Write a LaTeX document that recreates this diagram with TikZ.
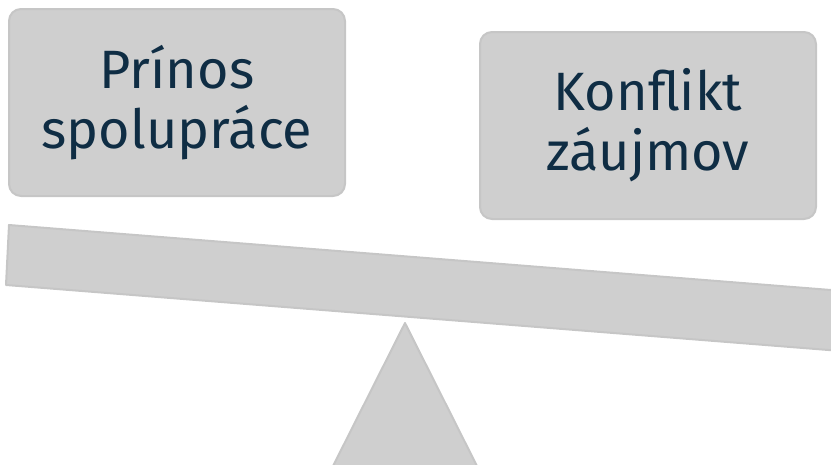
\documentclass[tikz,border=0pt]{standalone}
\usepackage{fontspec}
\setmainfont{Fira Sans}
\usepackage{tikz}
\usepackage{xcolor}
\usetikzlibrary{positioning,calc}

\definecolor{boxgray}{HTML}{CFCFCF}
\definecolor{edgegray}{HTML}{C6C6C6}
\definecolor{navytext}{HTML}{0F2D44}

\begin{document}
\begin{tikzpicture}[x=1pt, y=-1pt, thick,
    argbox/.style={draw=edgegray, fill=boxgray, line width=2pt, rounded corners=12pt,
        minimum width=336pt, minimum height=187pt, align=center, text=navytext,
        font=\fontsize{54}{60}\selectfont}]
    \useasboundingbox (0,0) rectangle (831,464);
    \clip (0,0) rectangle (831,464);

    % Arguments on the scale
    \node[argbox] (prinos) at (177,102.5) {Prínos\\spolupráce};
    \node[argbox] (konflikt) at (648,125.5) {Konflikt\\záujmov};

    % Beam (tilted towards the right)
    \draw[draw=edgegray, fill=boxgray, line width=2pt, line join=round]
        (9,225) -- (860,292.3) -- (860,352.5) -- (6,285) -- cycle;

    % Fulcrum
    \draw[draw=edgegray, fill=boxgray, line width=2pt, line join=round]
        (405,323) -- (484,480) -- (326,480) -- cycle;
\end{tikzpicture}
\end{document}
